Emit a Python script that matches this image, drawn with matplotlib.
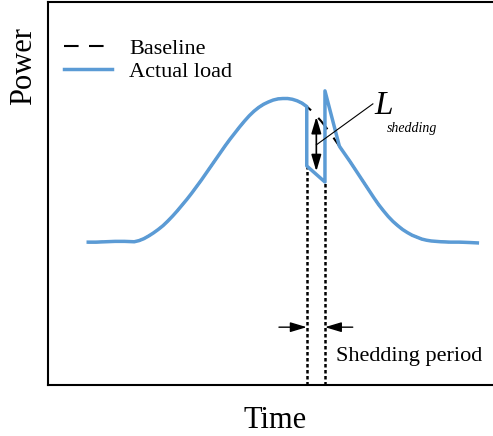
import matplotlib
matplotlib.use("Agg")
import matplotlib.pyplot as plt

plt.rcParams["font.family"] = ["Liberation Serif", "DejaVu Serif"]

# baseline load profile (time in h, normalised power)
base_t = [2.1, 2.5, 3.0, 3.5, 4.0, 4.5, 4.75, 5.0, 5.25, 5.5, 5.75, 6.0, 6.25,
          6.5, 6.75, 7.0, 7.25, 7.5, 7.75, 8.0, 8.25, 8.5, 8.75, 9.0, 9.25,
          9.5, 9.75, 10.0, 10.25, 10.5, 10.75, 11.0, 11.25, 11.5, 11.75, 12.0,
          12.25, 12.5, 12.75, 13.0, 13.25, 13.5, 13.75, 14.0, 14.25, 14.5,
          14.75, 15.0, 15.25, 15.5, 15.75, 16.0, 16.25, 16.5, 16.75, 17.0,
          17.25, 17.5, 17.75, 18.0, 18.25, 18.5, 18.75, 19.0, 19.25, 19.5,
          19.75, 20.0, 20.5, 21.0, 21.5, 22.0, 22.4]
base_p = [0.373, 0.373, 0.374, 0.375, 0.375, 0.374, 0.377, 0.382, 0.389,
          0.397, 0.406, 0.416, 0.428, 0.441, 0.455, 0.470, 0.485, 0.501,
          0.518, 0.535, 0.553, 0.571, 0.589, 0.607, 0.625, 0.642, 0.658,
          0.674, 0.689, 0.703, 0.715, 0.725, 0.733, 0.739, 0.744, 0.747,
          0.748, 0.748, 0.746, 0.742, 0.736, 0.727, 0.716, 0.703, 0.689,
          0.673, 0.656, 0.638, 0.620, 0.602, 0.584, 0.565, 0.546, 0.527,
          0.508, 0.489, 0.471, 0.455, 0.440, 0.427, 0.416, 0.406, 0.398,
          0.391, 0.386, 0.381, 0.378, 0.376, 0.374, 0.373, 0.373, 0.372,
          0.371]

# actual load: follows the baseline except during the shedding window
shed_start = 13.5
shed_end = 14.45
shed_t = [shed_start, shed_end, shed_end, 15.2]
shed_p = [0.572, 0.530, 0.768, 0.624]

act_t = [t for t in base_t if t <= shed_start] + shed_t + \
        [t for t in base_t if t > 15.2]
act_p = [p for t, p in zip(base_t, base_p) if t <= shed_start] + shed_p + \
        [p for t, p in zip(base_t, base_p) if t > 15.2]

blue = "#5B9BD5"

fig = plt.figure(figsize=(4.93, 4.36), dpi=100)
ax = fig.add_axes([48 / 493, 51 / 436, 460 / 493, 383 / 436])

ax.plot(base_t, base_p, color="black", lw=1.5, linestyle=(0, (7, 5)),
        label="Baseline", zorder=2)
ax.plot(act_t, act_p, color=blue, lw=2.5, label="Actual load", zorder=3,
        solid_joinstyle="round")

# dotted markers of the shedding period
ax.plot([shed_start, shed_start], [0, shed_p[0]], color="black", lw=1.8,
        linestyle=(0, (1.4, 1.0)), zorder=1)
ax.plot([shed_end, shed_end], [0, shed_p[1]], color="black", lw=1.8,
        linestyle=(0, (1.4, 1.0)), zorder=1)

# shed amount arrow
ax.annotate("", xy=(14.0, 0.558), xytext=(14.0, 0.700),
            arrowprops=dict(arrowstyle="<|-|>,head_length=0.5,head_width=0.15",
                            color="black", lw=1.2, mutation_scale=20,
                            shrinkA=0, shrinkB=0), zorder=4)
ax.plot([14.0, 16.95], [0.627, 0.734], color="black", lw=0.8, zorder=4)
ax.text(17.05, 0.708, "L", style="italic", fontsize=24, va="baseline")
ax.text(17.68, 0.660, "shedding", style="italic", fontsize=10, va="baseline")

# shedding period arrows
arr = dict(arrowstyle="-|>,head_length=0.5,head_width=0.15", color="black",
           lw=1.0, mutation_scale=20, shrinkA=0, shrinkB=0)
ax.annotate("", xy=(shed_start, 0.151), xytext=(12.05, 0.151), arrowprops=arr)
ax.annotate("", xy=(shed_end, 0.151), xytext=(15.9, 0.151), arrowprops=arr)
ax.text(15.03, 0.063, "Shedding period", fontsize=16, va="baseline")

ax.set_xlim(0, 24)
ax.set_ylim(0, 1)
ax.set_xticks([])
ax.set_yticks([])
for s in ax.spines.values():
    s.set_linewidth(1.5)
ax.spines["right"].set_visible(False)

ax.legend(loc="upper left", bbox_to_anchor=(0.035, 0.905), frameon=False,
          fontsize=16, handlelength=2.16, handletextpad=0.77,
          labelspacing=0.1, borderpad=0, borderaxespad=0)

fig.text(24 / 493, 1 - 66 / 436, "Power", rotation=90, fontsize=22,
         ha="center", va="center")
fig.text(275 / 493, 1 - 428 / 436, "Time", fontsize=22, ha="center",
         va="baseline")

fig.savefig("out.png", dpi=100)
